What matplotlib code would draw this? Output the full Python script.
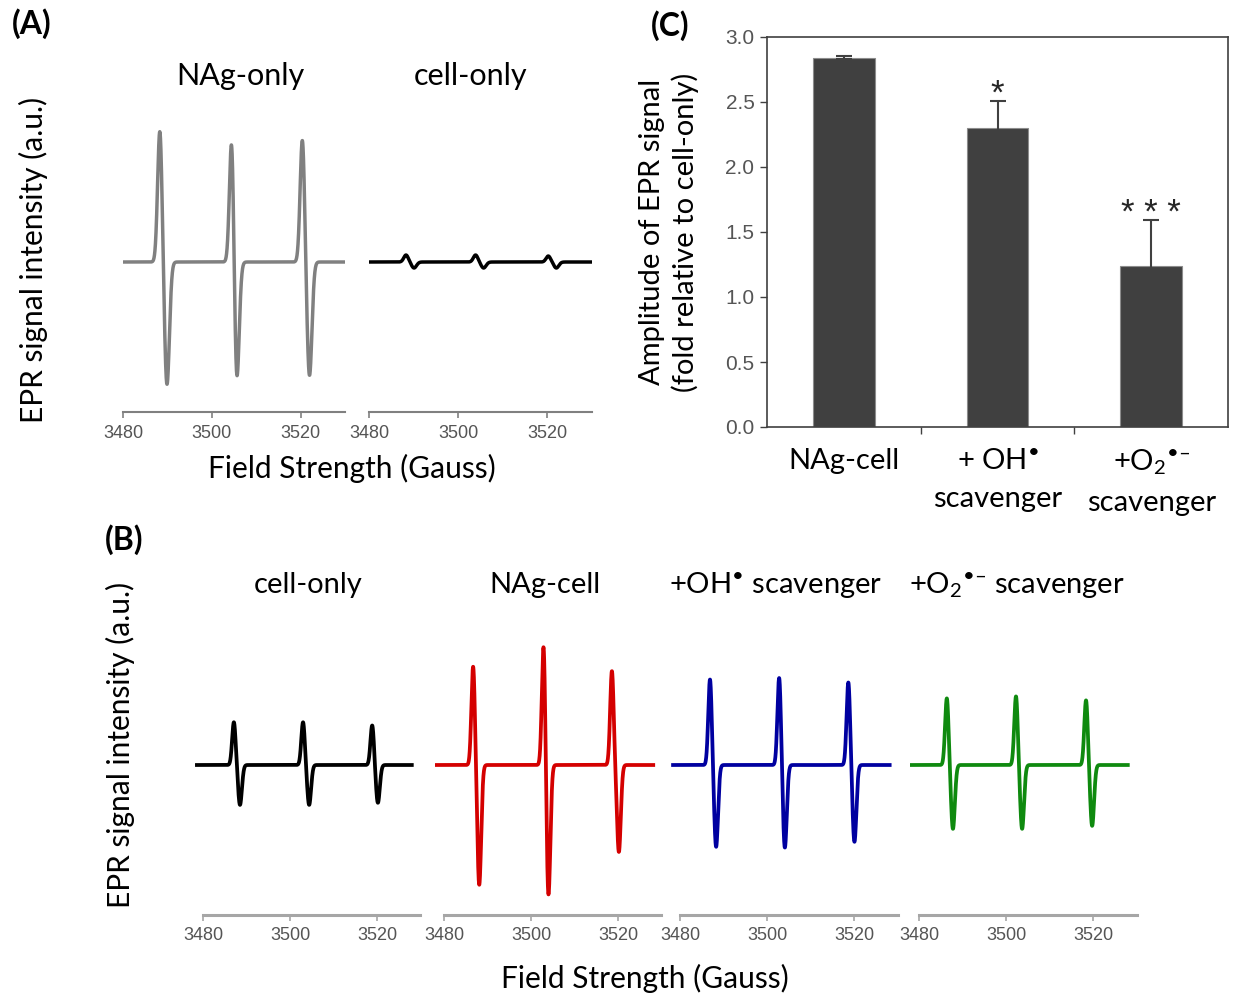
import numpy as np
import matplotlib
matplotlib.use("Agg")
import matplotlib.pyplot as plt

plt.rcParams['font.family'] = ['Lato', 'DejaVu Sans']
plt.rcParams['mathtext.fontset'] = 'custom'
plt.rcParams['mathtext.rm'] = 'Lato'
plt.rcParams['mathtext.it'] = 'Lato:italic'
plt.rcParams['mathtext.bf'] = 'Lato:bold'

W, H = 1233, 997

# ---- EPR spectra: field of each up/down lobe (Gauss) and its amplitude (a.u.) ----
# panel A
a_nag_up_field = [3488.3, 3504.5, 3520.4]
a_nag_up_amp = [132, 131, 123]
a_nag_dn_field = [3489.9, 3505.6, 3522.0]
a_nag_dn_amp = [-123, -123, -114]
a_nag_range = [3480.0, 3530.0]

a_cell_up_field = [3488.3, 3503.9, 3520.2]
a_cell_up_amp = [7, 7, 6]
a_cell_dn_field = [3490.1, 3505.7, 3522.0]
a_cell_dn_amp = [-6, -6, -6]
a_cell_range = [3480.0, 3529.8]

# panel B
b_titles = ["cell-only", "NAg-cell", "+OH$^{\u2022}$ scavenger",
            "+O$_2$$^{\u2022\u2013}$ scavenger"]
b_colors = ["#000000", "#d40000", "#0000a0", "#0f8a0f"]
b_up_field = [[3487.1, 3503.0, 3518.9],
              [3486.7, 3502.9, 3518.6],
              [3486.9, 3502.8, 3518.7],
              [3486.4, 3502.3, 3518.4]]
b_up_amp = [[43, 43, 40],
            [99, 123, 94],
            [86, 88, 83],
            [67, 69, 65]]
b_dn_field = [[3488.5, 3504.4, 3520.2],
              [3488.1, 3504.0, 3520.2],
              [3488.3, 3504.1, 3520.1],
              [3487.8, 3503.7, 3519.8]]
b_dn_amp = [[-40, -40, -38],
            [-120, -132, -87],
            [-82, -83, -77],
            [-64, -64, -61]]
b_range = [[3478.6, 3528.0],
           [3477.9, 3528.1],
           [3478.4, 3528.2],
           [3478.3, 3528.0]]

# ---- panel C: bar chart ----
c_labels = ["NAg-cell", "+ OH$^{\u2022}$\nscavenger",
            "+O$_2$$^{\u2022\u2013}$\nscavenger"]
c_values = [2.84, 2.30, 1.24]
c_err_low = [0.01, 0.26, 0.17]
c_err_high = [0.01, 0.21, 0.35]
c_marks = ["", "*", "* * *"]

fig = plt.figure(figsize=(W / 100, H / 100), dpi=100)


def px_axes(left, top, width, height):
    return fig.add_axes([left / W, 1 - (top + height) / H, width / W, height / H])


def px_text(x, y, s, **kw):
    return fig.text(x / W, 1 - y / H, s, **kw)


def spectrum(up_f, up_a, dn_f, dn_a, frange, sigma=0.45):
    field = np.linspace(frange[0], frange[1], 3000)
    sig = np.zeros_like(field)
    for f, a in zip(up_f, up_a):
        sig += a * np.exp(-0.5 * ((field - f) / sigma) ** 2)
    for f, a in zip(dn_f, dn_a):
        sig += a * np.exp(-0.5 * ((field - f) / (sigma * 1.1)) ** 2)
    return field, sig


def style_epr_axes(ax, xlim, ylim, axis_color, lw):
    ax.set_xlim(*xlim)
    ax.set_ylim(*ylim)
    for s in ["top", "right", "left"]:
        ax.spines[s].set_visible(False)
    ax.spines["bottom"].set_color(axis_color)
    ax.spines["bottom"].set_linewidth(lw)
    ax.spines["bottom"].set_bounds(3480, 3530)
    ax.set_yticks([])
    ax.set_xticks([3480, 3500, 3520])
    ax.tick_params(axis="x", direction="out", length=4, width=1.2,
                   color=axis_color, labelcolor="#555555", pad=5)
    for lab in ax.get_xticklabels():
        lab.set_fontfamily("Liberation Sans")
        lab.set_fontsize(13)
    ax.patch.set_alpha(0)


# panel A
axA1 = px_axes(123, 100, 222, 312)
f, s = spectrum(a_nag_up_field, a_nag_up_amp, a_nag_dn_field, a_nag_dn_amp, a_nag_range,
                sigma=0.5)
axA1.plot(f, s, color="#808080", lw=2.5)
style_epr_axes(axA1, (3480, 3530), (-150, 162), "#808080", 1.5)

axA2 = px_axes(369, 100, 223, 312)
f, s = spectrum(a_cell_up_field, a_cell_up_amp, a_cell_dn_field, a_cell_dn_amp, a_cell_range,
                sigma=0.5)
axA2.plot(f, s, color="#000000", lw=2.5)
style_epr_axes(axA2, (3480, 3530), (-150, 162), "#808080", 1.5)

px_text(240, 76, "NAg-only", fontsize=22, ha="center", va="center")
px_text(471, 76, "cell-only", fontsize=22, ha="center", va="center")
px_text(33, 260, "EPR signal intensity (a.u.)", fontsize=21.5, rotation=90,
        ha="center", va="center")
px_text(352, 468, "Field Strength (Gauss)", fontsize=21.5, ha="center", va="center")

# panel B
b_lefts = [203, 444, 680, 919]
for i in range(4):
    ax = px_axes(b_lefts[i] - 2 * 4.35, 600, 52 * 4.35, 315)
    f, s = spectrum(b_up_field[i], b_up_amp[i], b_dn_field[i], b_dn_amp[i], b_range[i],
                    sigma=0.4)
    ax.plot(f, s, color=b_colors[i], lw=2.7)
    style_epr_axes(ax, (3478, 3530), (-150, 165), "#a6a6a6", 2.2)

b_title_x = [308, 545, 776, 1017]
for x, t in zip(b_title_x, b_titles):
    px_text(x, 585, t, fontsize=21, ha="center", va="center")
px_text(120, 745, "EPR signal intensity (a.u.)", fontsize=21.5, rotation=90,
        ha="center", va="center")
px_text(645, 978, "Field Strength (Gauss)", fontsize=21.5, ha="center", va="center")

# panel C
axC = px_axes(767, 37, 461, 390)
xpos = np.arange(len(c_values))
axC.bar(xpos, c_values, width=0.4, color="#404040", edgecolor="#8c8c8c", lw=0.8,
        zorder=2)
axC.errorbar(xpos, c_values, yerr=[c_err_low, c_err_high], fmt="none",
             ecolor="#404040", elinewidth=1.5, capsize=6, capthick=1.5, zorder=3)
for x, v, e, m in zip(xpos, c_values, c_err_high, c_marks):
    if m:
        axC.annotate(m, xy=(x, v + e), xytext=(0, -2), textcoords="offset points",
                     ha="center", va="baseline", fontsize=25,
                     fontfamily="Liberation Sans", color="#262626")
axC.set_xlim(-0.5, 2.5)
axC.set_ylim(0, 3.0)
axC.set_yticks(np.arange(0, 3.01, 0.5))
axC.set_yticklabels([f"{v:.1f}" for v in np.arange(0, 3.01, 0.5)],
                    fontfamily="Liberation Sans", fontsize=15, color="#555555")
axC.tick_params(axis="y", direction="out", length=5, width=1, color="#404040", pad=4)
axC.set_xticks(xpos)
axC.set_xticklabels(c_labels, fontsize=21, linespacing=1.6)
axC.set_xticks([0.5, 1.5], minor=True)
axC.tick_params(axis="x", which="major", length=0, pad=15)
axC.tick_params(axis="x", which="minor", direction="out", length=5, width=1,
                color="#404040")
for sp in axC.spines.values():
    sp.set_color("#404040")
    sp.set_linewidth(1.2)
px_text(669, 232, "Amplitude of EPR signal\n(fold relative to cell-only)", fontsize=21,
        rotation=90, ha="center", va="center", linespacing=1.3, multialignment="center")

# panel letters
px_text(32, 24, "(A)", fontsize=23, fontweight="bold", ha="center", va="center")
px_text(670, 26, "(C)", fontsize=23, fontweight="bold", ha="center", va="center")
px_text(124, 540, "(B)", fontsize=23, fontweight="bold", ha="center", va="center")

fig.savefig("out.png", dpi=100)
